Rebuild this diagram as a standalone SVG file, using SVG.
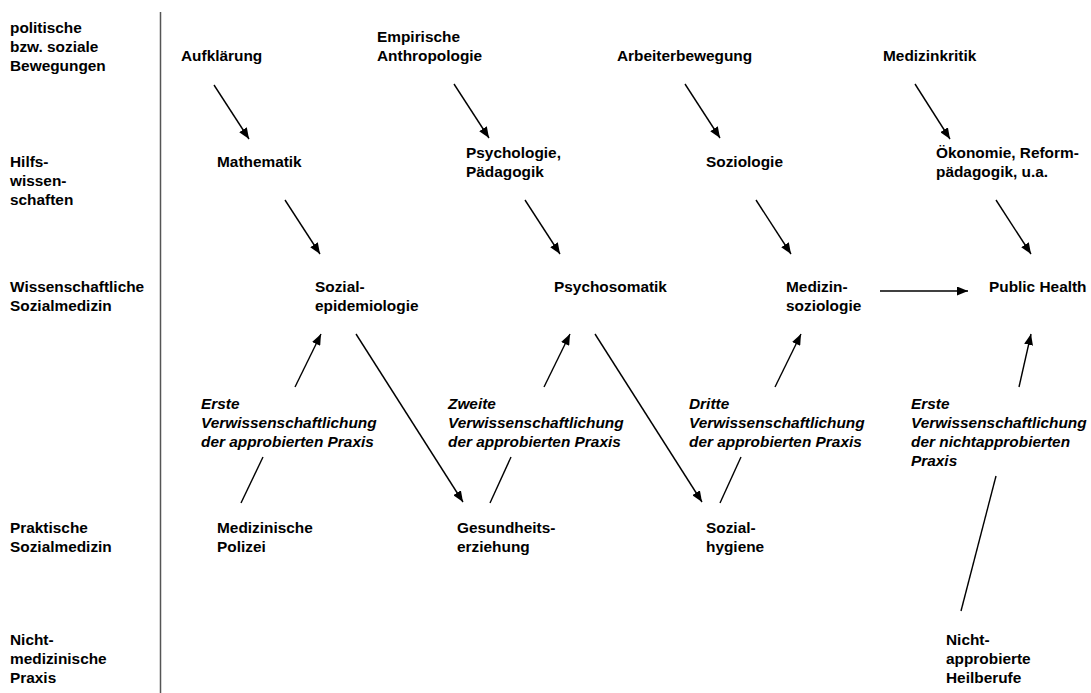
<svg xmlns="http://www.w3.org/2000/svg" width="1091" height="693" viewBox="0 0 1091 693">
<defs>
<style>
text{font-family:"Liberation Sans",Arial,sans-serif;font-weight:bold;font-size:15.4px;fill:#000}
.i{font-style:italic}
.c{stroke:#000;stroke-width:1.4;fill:none}
.a{marker-end:url(#ah)}
</style>
<marker id="ah" markerUnits="userSpaceOnUse" markerWidth="11" markerHeight="9" refX="11" refY="4.5" orient="auto">
<path d="M0,0 L11,4.5 L0,9 z" fill="#000"/>
</marker>
</defs>
<rect width="1091" height="693" fill="#fff"/>
<g id="axis"><line x1="160.5" y1="12" x2="160.5" y2="693" stroke="#555" stroke-width="1.5"/></g>
<g id="rowlabels">
<g id="row1"><text x="10" y="33">politische</text><text x="10" y="52">bzw. soziale</text><text x="10" y="71">Bewegungen</text></g>
<g id="row2"><text x="10" y="167">Hilfs-</text><text x="10" y="186">wissen-</text><text x="10" y="205">schaften</text></g>
<g id="row3"><text x="10" y="292">Wissenschaftliche</text><text x="10" y="311">Sozialmedizin</text></g>
<g id="row4"><text x="10" y="533">Praktische</text><text x="10" y="552">Sozialmedizin</text></g>
<g id="row5"><text x="10" y="645">Nicht-</text><text x="10" y="664">medizinische</text><text x="10" y="683">Praxis</text></g>
</g>
<g id="n-aufklaerung"><text x="181" y="61">Aufklärung</text></g>
<g id="n-anthropologie"><text x="377" y="42">Empirische</text><text x="377" y="61">Anthropologie</text></g>
<g id="n-arbeiter"><text x="617" y="61">Arbeiterbewegung</text></g>
<g id="n-medizinkritik"><text x="883" y="61">Medizinkritik</text></g>
<g id="n-mathematik"><text x="217" y="167">Mathematik</text></g>
<g id="n-psychologie"><text x="466" y="158">Psychologie,</text><text x="466" y="177">Pädagogik</text></g>
<g id="n-soziologie"><text x="706" y="167">Soziologie</text></g>
<g id="n-oekonomie"><text x="936" y="158">Ökonomie, Reform-</text><text x="936" y="177">pädagogik, u.a.</text></g>
<g id="n-sozialepi"><text x="315" y="292">Sozial-</text><text x="315" y="311">epidemiologie</text></g>
<g id="n-psychosomatik"><text x="554" y="292">Psychosomatik</text></g>
<g id="n-medizinsoz"><text x="786" y="292">Medizin-</text><text x="786" y="311">soziologie</text></g>
<g id="n-publichealth"><text x="989" y="292">Public Health</text></g>
<g id="l-erste"><text class="i" x="201" y="409">Erste</text><text class="i" x="201" y="428">Verwissenschaftlichung</text><text class="i" x="201" y="447">der approbierten Praxis</text></g>
<g id="l-zweite"><text class="i" x="448" y="409">Zweite</text><text class="i" x="448" y="428">Verwissenschaftlichung</text><text class="i" x="448" y="447">der approbierten Praxis</text></g>
<g id="l-dritte"><text class="i" x="689" y="409">Dritte</text><text class="i" x="689" y="428">Verwissenschaftlichung</text><text class="i" x="689" y="447">der approbierten Praxis</text></g>
<g id="l-erste2"><text class="i" x="911" y="409">Erste</text><text class="i" x="911" y="428">Verwissenschaftlichung</text><text class="i" x="911" y="447">der nichtapprobierten</text><text class="i" x="911" y="466">Praxis</text></g>
<g id="n-polizei"><text x="217" y="533">Medizinische</text><text x="217" y="552">Polizei</text></g>
<g id="n-gesundheit"><text x="457" y="533">Gesundheits-</text><text x="457" y="552">erziehung</text></g>
<g id="n-sozialhygiene"><text x="706" y="533">Sozial-</text><text x="706" y="552">hygiene</text></g>
<g id="n-heilberufe"><text x="946" y="645">Nicht-</text><text x="946" y="664">approbierte</text><text x="946" y="683">Heilberufe</text></g>
<g id="connectors">
<line class="c a" x1="214" y1="85" x2="249" y2="139"/>
<line class="c a" x1="454" y1="84" x2="489" y2="138"/>
<line class="c a" x1="685" y1="84" x2="720" y2="138"/>
<line class="c a" x1="915" y1="84" x2="950" y2="139"/>
<line class="c a" x1="285" y1="200" x2="320" y2="254"/>
<line class="c a" x1="525" y1="200" x2="560" y2="254"/>
<line class="c a" x1="756" y1="200" x2="791" y2="254"/>
<line class="c a" x1="996" y1="200" x2="1031" y2="254"/>
<line class="c a" x1="880" y1="291" x2="968" y2="291"/>
<line class="c a" x1="295" y1="387" x2="321" y2="334"/>
<line class="c a" x1="544" y1="387" x2="570" y2="334"/>
<line class="c a" x1="775" y1="387" x2="801" y2="334"/>
<line class="c a" x1="1019" y1="387" x2="1031" y2="334"/>
<line class="c a" x1="356" y1="334" x2="463" y2="502"/>
<line class="c a" x1="595" y1="334" x2="702" y2="502"/>
<line class="c" x1="241" y1="503" x2="263" y2="457"/>
<line class="c" x1="490" y1="503" x2="511" y2="457"/>
<line class="c" x1="720" y1="503" x2="741" y2="457"/>
<line class="c" x1="961" y1="611" x2="996" y2="476"/>
</g>
</svg>
